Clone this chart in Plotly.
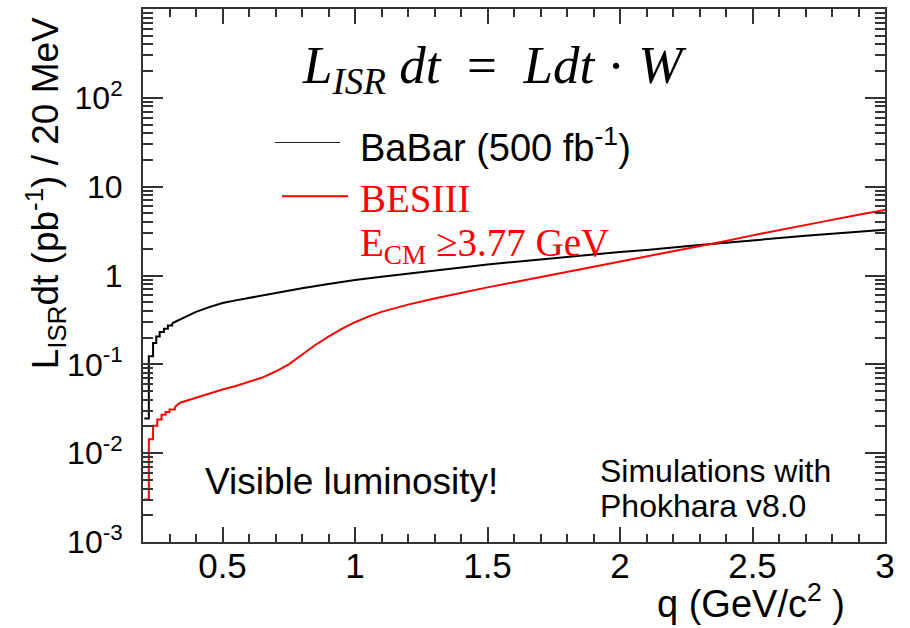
import plotly.graph_objects as go

# ---------------- data ----------------
# threshold region, drawn as histogram steps
q_babar_thr = [0.205, 0.222, 0.238, 0.250, 0.263, 0.279, 0.294, 0.310]
lum_babar_thr = [0.0245, 0.123, 0.174, 0.206, 0.231, 0.252, 0.274, 0.290]
q_besiii_thr = [0.205, 0.222, 0.238, 0.254, 0.270, 0.285, 0.300, 0.320]
lum_besiii_thr = [0.0030, 0.0143, 0.0203, 0.0240, 0.0270, 0.0290, 0.0310, 0.0330]

# smooth part of the spectra
q_babar = [0.31, 0.36, 0.40, 0.45, 0.50, 0.55, 0.60, 0.65, 0.70, 0.80, 0.90,
           1.00, 1.10, 1.20, 1.30, 1.40, 1.50, 1.60, 1.70, 1.80, 1.90, 2.00,
           2.10, 2.20, 2.30, 2.40, 2.50, 2.60, 2.70, 2.80, 2.90, 3.00]
lum_babar = [0.290, 0.340, 0.390, 0.440, 0.490, 0.525, 0.560, 0.600, 0.640, 0.720, 0.800,
             0.890, 0.970, 1.050, 1.140, 1.240, 1.330, 1.420, 1.520, 1.620, 1.730, 1.840,
             1.940, 2.050, 2.200, 2.340, 2.500, 2.670, 2.800, 2.950, 3.100, 3.280]

q_besiii = [0.32, 0.34, 0.40, 0.45, 0.50, 0.55, 0.60, 0.65, 0.70, 0.75, 0.80,
            0.85, 0.90, 0.95, 1.00, 1.05, 1.10, 1.20, 1.30, 1.40, 1.50, 1.60,
            1.70, 1.80, 1.90, 2.00, 2.10, 2.20, 2.30, 2.40, 2.50, 2.60, 2.70,
            2.80, 2.90, 3.00]
lum_besiii = [0.033, 0.037, 0.042, 0.047, 0.052, 0.057, 0.063, 0.071, 0.083, 0.100, 0.128,
              0.165, 0.205, 0.250, 0.298, 0.345, 0.390, 0.470, 0.550, 0.640, 0.735, 0.840,
              0.960, 1.090, 1.250, 1.420, 1.630, 1.860, 2.120, 2.450, 2.830, 3.250, 3.720,
              4.230, 4.820, 5.450]

y_tickvals = [1e-3, 1e-2, 1e-1, 1, 10, 100]
y_ticktext = ["10<sup>-3</sup>", "10<sup>-2</sup>", "10<sup>-1</sup>", "1", "10", "10<sup>2</sup>"]
x_tickvals = [0.5, 1.0, 1.5, 2.0, 2.5, 3.0]
x_ticktext = ["0.5", "1", "1.5", "2", "2.5", "3"]

# ---------------- figure ----------------
BLACK = "#000000"
RED = "#ff0000"
SANS = "Liberation Sans, Arial, sans-serif"
SERIF = "Liberation Serif, Times New Roman, serif"

fig = go.Figure()
fig.add_trace(go.Scatter(x=q_babar_thr, y=lum_babar_thr, mode="lines", line_shape="hv",
                         line=dict(color=BLACK, width=2), showlegend=False))
fig.add_trace(go.Scatter(x=q_babar, y=lum_babar, mode="lines",
                         line=dict(color=BLACK, width=2), showlegend=False))
fig.add_trace(go.Scatter(x=q_besiii_thr, y=lum_besiii_thr, mode="lines", line_shape="hv",
                         line=dict(color=RED, width=2), showlegend=False))
fig.add_trace(go.Scatter(x=q_besiii, y=lum_besiii, mode="lines",
                         line=dict(color=RED, width=2), showlegend=False))

minor_y = [m * 10 ** e for e in range(-3, 3) for m in range(2, 10)]

fig.update_xaxes(range=[0.2, 3.0], tickvals=x_tickvals, ticktext=x_ticktext,
                 ticks="inside", ticklen=15, tickwidth=1.5, tickcolor="#333",
                 minor=dict(dtick=0.1, tick0=0.2, ticks="inside", ticklen=8, tickwidth=1.5, tickcolor="#333"),
                 showline=True, linecolor="#333", linewidth=2, mirror="allticks",
                 showgrid=False, zeroline=False,
                 tickfont=dict(family=SANS, size=35, color="black"), ticklabelstandoff=-8)
fig.update_yaxes(type="log", range=[-3, 3], tickvals=y_tickvals, ticktext=y_ticktext,
                 ticks="inside", ticklen=20, tickwidth=1.5, tickcolor="#333",
                 minor=dict(tickvals=minor_y, ticks="inside", ticklen=10, tickwidth=1.5, tickcolor="#333"),
                 showline=True, linecolor="#333", linewidth=2, mirror="allticks",
                 showgrid=False, zeroline=False,
                 tickfont=dict(family=SANS, size=32, color="black"), ticklabelstandoff=12)

L, T, W, H = 143, 7, 742, 535


def px(x):
    return (x - L) / W


def py(y):
    return (T + H - y) / H


annots = [
    dict(text="L<sub>ISR</sub>dt (pb<sup>-1</sup>) / 20 MeV", x=px(45), y=py(192), textangle=-90,
         xanchor="center", yanchor="middle", font=dict(family=SANS, size=37, color="black")),
    dict(text="q (GeV/c<sup>2</sup> )", x=px(655), y=py(601), xanchor="left", yanchor="middle",
         font=dict(family=SANS, size=38, color="black")),
    dict(text="<i>L</i><sub><i>ISR</i></sub> <i>dt</i>  =  <i>Ldt</i> · <i>W</i>", x=px(494), y=py(67),
         xanchor="center", yanchor="middle", font=dict(family=SERIF, size=53, color="black")),
    dict(text="BaBar (500 fb<sup>-1</sup>)", x=px(358), y=py(144), xanchor="left", yanchor="middle",
         font=dict(family=SANS, size=38, color="black")),
    dict(text="BESIII", x=px(358), y=py(197), xanchor="left", yanchor="middle",
         font=dict(family=SERIF, size=39, color=RED)),
    dict(text="E<sub>CM</sub> ≥3.77 GeV", x=px(358), y=py(244), xanchor="left", yanchor="middle",
         font=dict(family=SERIF, size=39, color=RED)),
    dict(text="Visible luminosity!", x=px(203), y=py(481), xanchor="left", yanchor="middle",
         font=dict(family=SANS, size=37, color="black")),
    dict(text="Simulations with", x=px(598), y=py(471), xanchor="left", yanchor="middle",
         font=dict(family=SANS, size=32, color="black")),
    dict(text="Phokhara v8.0", x=px(598), y=py(506), xanchor="left", yanchor="middle",
         font=dict(family=SANS, size=32, color="black")),
]
for a in annots:
    a.update(xref="paper", yref="paper", showarrow=False)

shapes = [
    dict(type="line", xref="paper", yref="paper", x0=px(275), x1=px(340), y0=py(141), y1=py(141),
         line=dict(color="#222", width=1.2)),
    dict(type="line", xref="paper", yref="paper", x0=px(282), x1=px(348), y0=py(195), y1=py(195),
         line=dict(color=RED, width=2)),
]

fig.update_layout(width=910, height=628, autosize=False,
                  margin=dict(l=L, r=910 - L - W, t=T, b=628 - T - H),
                  plot_bgcolor="white", paper_bgcolor="white",
                  annotations=annots, shapes=shapes, showlegend=False)

fig.write_html("out.html")
